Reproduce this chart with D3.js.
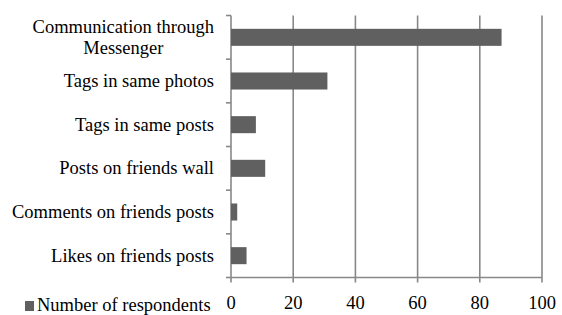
<!DOCTYPE html>
<html lang="en">
<head>
  <meta charset="UTF-8">
  <title>Number of respondents</title>
  <script src="https://d3js.org/d3.v7.min.js"></script>
  <style>
    body {
      margin: 0;
      overflow: hidden;
      background: #fff;
    }
    svg {
      display: block;
    }
    svg text {
      font-family: "Liberation Serif", "DejaVu Serif", serif;
    }
  </style>
</head>
<body>
  <script>
    const width = 562;
    const height = 315;

    // data
    const categories = [
      "Communication through\nMessenger",
      "Tags in same photos",
      "Tags in same posts",
      "Posts on friends wall",
      "Comments on friends posts",
      "Likes on friends posts"
    ];
    const respondents = [87, 31, 8, 11, 2, 5];
    const xTicks = [0, 20, 40, 60, 80, 100];
    const seriesName = "Number of respondents";

    const barColor = "#606060";
    const gridColor = "#888888";
    const fontSize = 18.5;
    const fontFamily = "'Liberation Serif', 'DejaVu Serif', serif";

    const svg = d3.select("body")
      .append("svg")
      .attr("width", width)
      .attr("height", height);

    const x = d3.scaleLinear()
      .domain([0, 100])
      .range([231, 542]);

    const y = d3.scaleBand()
      .domain(categories)
      .range([15.5, 277.5])
      .paddingInner(0.61)
      .paddingOuter(0.305);

    const plotTop = y.range()[0];
    const plotBottom = y.range()[1];
    const step = y.step();

    // vertical gridlines (also the tick marks below the axis)
    svg.selectAll("line.grid")
      .data(xTicks)
      .enter()
      .append("line")
      .attr("class", "grid")
      .attr("x1", d => x(d))
      .attr("x2", d => x(d))
      .attr("y1", plotTop)
      .attr("y2", plotBottom + 5)
      .attr("stroke", gridColor)
      .attr("stroke-width", 1.6);

    // horizontal axis line
    svg.append("line")
      .attr("x1", x(0))
      .attr("x2", x(100))
      .attr("y1", plotBottom)
      .attr("y2", plotBottom)
      .attr("stroke", gridColor)
      .attr("stroke-width", 1.6);

    // category tick marks on the vertical axis
    svg.selectAll("line.ytick")
      .data(d3.range(categories.length + 1))
      .enter()
      .append("line")
      .attr("class", "ytick")
      .attr("x1", x(0) - 5)
      .attr("x2", x(0))
      .attr("y1", i => plotTop + i * step)
      .attr("y2", i => plotTop + i * step)
      .attr("stroke", gridColor)
      .attr("stroke-width", 1.6);

    // bars
    svg.selectAll("rect.bar")
      .data(respondents)
      .enter()
      .append("rect")
      .attr("class", "bar")
      .attr("x", x(0))
      .attr("y", (d, i) => y(categories[i]))
      .attr("width", d => x(d) - x(0))
      .attr("height", y.bandwidth())
      .attr("fill", barColor);

    // x tick labels
    svg.selectAll("text.xlabel")
      .data(xTicks)
      .enter()
      .append("text")
      .attr("class", "xlabel")
      .attr("x", d => x(d))
      .attr("y", 309)
      .attr("text-anchor", "middle")
      .attr("font-family", fontFamily)
      .attr("font-size", fontSize)
      .attr("fill", "#000")
      .text(d => d);

    // category labels; wrapped lines are centred on each other, block right-aligned
    const labelRight = 214;
    const lineHeight = 21;
    categories.forEach(c => {
      const lines = c.split("\n");
      const cy = y(c) + y.bandwidth() / 2 + 6;
      const g = svg.append("text")
        .attr("font-family", fontFamily)
        .attr("font-size", fontSize)
        .attr("fill", "#000");
      lines.forEach((l, j) => {
        g.append("tspan")
          .attr("y", cy + (j - (lines.length - 1) / 2) * lineHeight)
          .text(l);
      });
      const spans = g.selectAll("tspan").nodes();
      const maxW = d3.max(spans, n => n.getComputedTextLength());
      g.attr("text-anchor", "middle");
      spans.forEach(n => d3.select(n).attr("x", labelRight - maxW / 2));
    });

    // legend
    svg.append("rect")
      .attr("x", 25)
      .attr("y", 301)
      .attr("width", 9)
      .attr("height", 10)
      .attr("fill", barColor);

    svg.append("text")
      .attr("x", 37)
      .attr("y", 311)
      .attr("font-family", fontFamily)
      .attr("font-size", fontSize)
      .attr("fill", "#000")
      .text(seriesName);
  </script>
</body>
</html>
